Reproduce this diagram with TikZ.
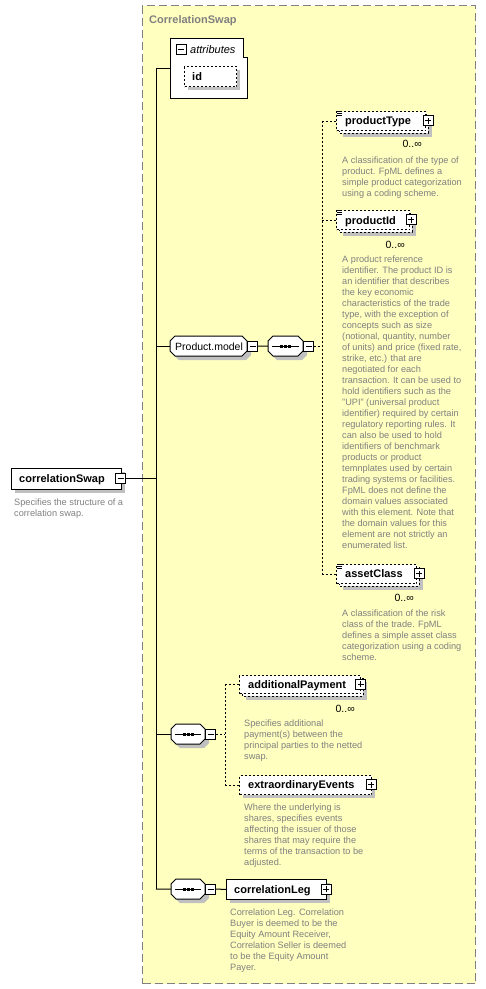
\documentclass[tikz,border=0pt]{standalone}
\usepackage{fontspec}
\setmainfont{Liberation Sans}
\definecolor{ybg}{HTML}{FFFFC0}
\definecolor{shd}{HTML}{C0C0C0}
\definecolor{txtgray}{HTML}{808080}
\tikzset{
  grp/.style={draw=txtgray, line width=1pt, dash pattern=on 8pt off 4pt, fill=ybg, inner sep=0pt},
  reqbox/.style={draw=black, line width=1pt, fill=white, inner sep=0pt},
  optbox/.style={reqbox, dash pattern=on 2pt off 2pt},
  conn/.style={draw=black, line width=1pt},
  optconn/.style={conn, dash pattern=on 2pt off 2pt},
  namebold/.style={font=\fontsize{11}{13}\selectfont\bfseries, inner sep=0pt, anchor=base west},
  nameplain/.style={font=\fontsize{10.5}{13}\selectfont, inner sep=0pt, anchor=base west},
  nameital/.style={font=\fontsize{11}{13}\selectfont\itshape, inner sep=0pt, anchor=base west},
  desc/.style={font=\fontsize{9.2}{11}\selectfont, text=txtgray, inner sep=0pt, anchor=base west},
  multtext/.style={font=\fontsize{10.5}{12}\selectfont, inner sep=0pt, anchor=base east},
  pmbox/.style={draw=black, line width=1pt, fill=white, minimum size=10pt, inner sep=0pt},
}
\newcommand\pmminus[3]{\node[pmbox] (#1) at (#2,#3) {};
  \draw[line width=1pt] ([xshift=-3pt]#1.center) -- ([xshift=3pt]#1.center);}
\newcommand\pmplus[3]{\pmminus{#1}{#2}{#3}%
  \draw[line width=1pt] ([yshift=-3pt]#1.center) -- ([yshift=3pt]#1.center);}
\newcommand\octo[5]{%
  \fill[shd] ({#2+9},{#3+4}) -- ({#2+#4-1},{#3+4}) -- ({#2+#4+4},{#3+9}) -- ({#2+#4+4},{#3+#5-1}) -- ({#2+#4-1},{#3+#5+4}) -- ({#2+9},{#3+#5+4}) -- ({#2+4},{#3+#5-1}) -- ({#2+4},{#3+9}) -- cycle;
  \draw[line width=1pt, fill=white] ({#2+5},{#3}) -- ({#2+#4-5},{#3}) -- ({#2+#4},{#3+5}) -- ({#2+#4},{#3+#5-5}) -- ({#2+#4-5},{#3+#5}) -- ({#2+5},{#3+#5}) -- ({#2},{#3+#5-5}) -- ({#2},{#3+5}) -- cycle;
  \node[inner sep=0pt, minimum width=#4pt, minimum height=#5pt, anchor=north west] (#1) at (#2,#3) {};}
\newcommand\seqdots[1]{%
  \draw[line width=1pt] ([xshift=4pt]#1.west) -- ([xshift=-4pt]#1.east);
  \foreach \dx in {-4,0,4} {\fill ([xshift=\dx pt]#1.center) +(-1.5,-1.5) rectangle +(1.5,1.5);}}
\newcommand\listicon[2]{%
  \foreach \k in {0,2,4} {\draw[line width=0.8pt] ({#1},{#2+0.5+\k}) -- ({#1+5},{#2+0.5+\k});}}
\newcommand\multielem[5]{%
  \fill[shd] ({#2+7},{#3+7}) rectangle ({#2+#4+7},{#3+#5+7});
  \draw[optbox] ({#2+3},{#3+3}) rectangle ({#2+#4+3},{#3+#5+3});
  \node[optbox, minimum width=#4pt, minimum height=#5pt, anchor=north west] (#1) at (#2,#3) {};}
\newcommand\singleelem[6]{%
  \fill[shd] ({#2+4},{#3+4}) rectangle ({#2+#4+4},{#3+#5+4});
  \node[#6, minimum width=#4pt, minimum height=#5pt, anchor=north west] (#1) at (#2,#3) {};}
\begin{document}
\begin{tikzpicture}[x=1pt,y=-1pt]
\path[use as bounding box] (0,0) rectangle (486,989);
% group
\node[grp, minimum width=333pt, minimum height=978pt, anchor=north west] (group) at (142,5) {};
\node[namebold, text=txtgray] (grouptitle) at (149,23) {CorrelationSwap};
% trunk
\coordinate (trunkTop) at (156,68);
\coordinate (trunkBot) at (156,889);
\draw[conn] (trunkTop) -- (trunkBot);
% attributes
\draw[reqbox] (170,38) -- (243,38) -- (243,57) -- (247,57) -- (247,98) -- (170,98) -- cycle;
\coordinate (attrL) at (170,68);
\draw[conn] (trunkTop) -- (attrL);
\pmminus{attrm}{181}{49}
\node[nameital] (attrt) at (190,53) {attributes};
\singleelem{idbox}{184}{66}{52}{20}{optbox}
\node[namebold] (idt) at (192,80) {id};
% correlationSwap
\singleelem{cs}{11}{468}{110}{21}{reqbox}
\node[namebold] (cst) at (19,482) {correlationSwap};
\pmminus{csm}{120.5}{478.5}
\draw[conn] (csm.east) -- (csm.east -| trunkTop);
\node[desc] (csd) at (14,505) {\begin{tabular}[t]{@{}l@{}}Specifies the structure of a\\correlation swap.\end{tabular}};
% Product.model
\octo{pm}{170}{336}{77}{20}
\node[nameplain] (pmt) at (175,350) {Product.model};
\pmminus{pmm}{252.5}{346}
\draw[conn] (trunkTop |- pm.west) -- (pm.west);
\octo{sq1}{268}{336}{35}{20}
\seqdots{sq1}
\pmminus{sq1m}{308.5}{346}
\draw[conn] (pmm.east) -- (sq1.west);
\coordinate (ch1top) at (322,120.5);
\coordinate (ch1bot) at (322,573.5);
\draw[optconn] (ch1top) -- (ch1bot);
\draw[optconn] (sq1m.east) -- (sq1m.east -| ch1top);
% productType
\multielem{pt}{336}{111}{89}{19}
\listicon{337}{111}
\node[namebold] (ptt) at (345,124.5) {productType};
\pmplus{ptp}{428}{120.5}
\node[multtext] (ptn) at (422,147) {0..∞};
\draw[optconn] (pt.west -| ch1top) -- (pt.west);
\node[desc] (ptd) at (342,163) {\begin{tabular}[t]{@{}l@{}}A classification of the type of\\product. FpML defines a\\simple product categorization\\using a coding scheme.\end{tabular}};
% productId
\multielem{pid}{336}{210}{73}{19}
\listicon{337}{210}
\node[namebold] (pidt) at (345,224) {productId};
\pmplus{pidp}{411}{219.5}
\node[multtext] (pidn) at (405,248) {0..∞};
\draw[optconn] (pid.west -| ch1top) -- (pid.west);
\node[desc] (pidd) at (342,262) {\begin{tabular}[t]{@{}l@{}}A product reference\\identifier. The product ID is\\an identifier that describes\\the key economic\\characteristics of the trade\\type, with the exception of\\concepts such as size\\(notional, quantity, number\\of units) and price (fixed rate,\\strike, etc.) that are\\negotiated for each\\transaction. It can be used to\\hold identifiers such as the\\"UPI" (universal product\\identifier) required by certain\\regulatory reporting rules. It\\can also be used to hold\\identifiers of benchmark\\products or product\\temnplates used by certain\\trading systems or facilities.\\FpML does not define the\\domain values associated\\with this element. Note that\\the domain values for this\\element are not strictly an\\enumerated list.\end{tabular}};
% assetClass
\multielem{ac}{336}{564}{80}{19}
\listicon{337}{564}
\node[namebold] (act) at (345,577.5) {assetClass};
\pmplus{acp}{419}{573.5}
\node[multtext] (acn) at (414,601) {0..∞};
\draw[optconn] (ac.west -| ch1top) -- (ac.west);
\node[desc] (acd) at (342,616) {\begin{tabular}[t]{@{}l@{}}A classification of the risk\\class of the trade. FpML\\defines a simple asset class\\categorization using a coding\\scheme.\end{tabular}};
% second sequence
\octo{sq2}{171}{724}{34}{20}
\seqdots{sq2}
\pmminus{sq2m}{210.5}{734}
\draw[conn] (trunkTop |- sq2.west) -- (sq2.west);
\coordinate (ch2top) at (225,684);
\coordinate (ch2bot) at (225,784.5);
\draw[optconn] (ch2top) -- (ch2bot);
\draw[optconn] (sq2m.east) -- (sq2m.east -| ch2top);
% additionalPayment
\multielem{ap}{239}{675}{121}{18}
\node[namebold] (apt) at (248,688) {additionalPayment};
\pmplus{app}{360.5}{684}
\node[multtext] (apn) at (355,712) {0..∞};
\draw[optconn] (ap.west -| ch2top) -- (ap.west);
\node[desc] (apd) at (244,726) {\begin{tabular}[t]{@{}l@{}}Specifies additional\\payment(s) between the\\principal parties to the netted\\swap.\end{tabular}};
% extraordinaryEvents
\singleelem{ee}{239}{775}{132}{19}{optbox}
\node[namebold] (eet) at (248,788.5) {extraordinaryEvents};
\pmplus{eep}{371}{784.5}
\draw[optconn] (ee.west -| ch2top) -- (ee.west);
\node[desc] (eed) at (244,810) {\begin{tabular}[t]{@{}l@{}}Where the underlying is\\shares, specifies events\\affecting the issuer of those\\shares that may require the\\terms of the transaction to be\\adjusted.\end{tabular}};
% third sequence
\octo{sq3}{171}{879}{34}{20}
\seqdots{sq3}
\pmminus{sq3m}{210.5}{889}
\draw[conn] (trunkBot) -- (sq3.west);
\singleelem{cl}{226}{879}{100}{20}{reqbox}
\node[namebold] (clt) at (234,893) {correlationLeg};
\pmplus{clp}{326}{889}
\draw[conn] (sq3m.east) -- (cl.west);
\node[desc] (cld) at (230,915) {\begin{tabular}[t]{@{}l@{}}Correlation Leg. Correlation\\Buyer is deemed to be the\\Equity Amount Receiver,\\Correlation Seller is deemed\\to be the Equity Amount\\Payer.\end{tabular}};
\end{tikzpicture}
\end{document}
